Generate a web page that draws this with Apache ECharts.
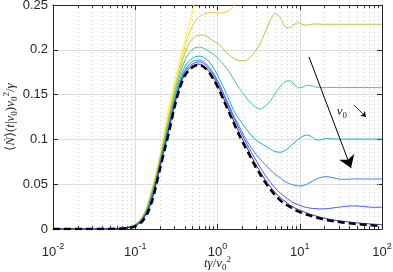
<!DOCTYPE html>
<html><head><meta charset="utf-8">
<script src="https://cdn.jsdelivr.net/npm/echarts@6/dist/echarts.min.js"></script>
<style>html,body{margin:0;padding:0;background:#fff}#c{width:393px;height:272px}</style>
</head><body><div id="c"></div>
<script>
// time grid t*gamma/v0^2
const T = [0.01, 0.03, 0.06, 0.08, 0.1, 0.12, 0.14, 0.16, 0.18, 0.2,
  0.23, 0.26, 0.3, 0.35, 0.4, 0.46, 0.53, 0.6, 0.7, 0.8,
  0.92, 1.05, 1.2, 1.4, 1.6, 1.85, 2.1, 2.4, 2.8, 3.3,
  3.8, 4.4, 5, 5.8, 6.6, 7.5, 8.5, 9.7, 11, 12.5,
  14.2, 16.2, 18.5, 21, 24, 28, 33, 40, 47, 56,
  68, 82, 100];

const yellowV = [0, 0, 0.0004, 0.002, 0.0055, 0.013, 0.027, 0.046, 0.064, 0.084,
  0.114, 0.139, 0.164, 0.19, 0.21, 0.232, 0.254, 0.272, 0.29];
const orangeV = [0, 0, 0.0004, 0.0018, 0.0052, 0.0125, 0.025, 0.044, 0.061, 0.080,
  0.107, 0.131, 0.157, 0.183, 0.203, 0.220, 0.231, 0.237, 0.240, 0.2415,
  0.2415, 0.241, 0.2415, 0.244, 0.250, 0.259, 0.270, 0.282];
const yellowGreenV = [0, 0, 0.0003, 0.0017, 0.0049, 0.012, 0.024, 0.042, 0.059, 0.078,
  0.104, 0.127, 0.153, 0.177, 0.196, 0.208, 0.2145, 0.2165, 0.216, 0.213,
  0.209, 0.206, 0.200, 0.194, 0.190, 0.188, 0.1878, 0.190, 0.197, 0.207,
  0.220, 0.233, 0.2405, 0.236, 0.226, 0.2245, 0.228, 0.2303, 0.228, 0.2277,
  0.2288, 0.2287, 0.2285, 0.2285, 0.2285, 0.2285, 0.2285, 0.2285, 0.2285, 0.2285,
  0.2285, 0.2285, 0.2285];
const tealV = [0, 0, 0.0003, 0.0016, 0.0046, 0.0115, 0.023, 0.040, 0.057, 0.076,
  0.101, 0.123, 0.149, 0.172, 0.188, 0.197, 0.202, 0.203, 0.201, 0.198,
  0.194, 0.189, 0.183, 0.175, 0.166, 0.157, 0.150, 0.143, 0.137, 0.134,
  0.137, 0.143, 0.151, 0.159, 0.1645, 0.1655, 0.162, 0.1575, 0.1585, 0.1605,
  0.1595, 0.1582, 0.158, 0.158, 0.158, 0.158, 0.158, 0.158, 0.158, 0.158,
  0.158, 0.158, 0.158];
const cyanV = [0, 0, 0.0003, 0.0015, 0.0043, 0.011, 0.022, 0.039, 0.056, 0.074,
  0.098, 0.120, 0.145, 0.167, 0.181, 0.188, 0.192, 0.193, 0.191, 0.186,
  0.178, 0.168, 0.157, 0.143, 0.131, 0.122, 0.115, 0.108, 0.101, 0.096,
  0.093, 0.089, 0.0865, 0.0857, 0.0875, 0.0915, 0.096, 0.1005, 0.1038, 0.1048,
  0.1025, 0.0993, 0.0998, 0.1012, 0.1008, 0.1003, 0.1004, 0.1004, 0.1004, 0.1004,
  0.1004, 0.1004, 0.1004];
const lightBlueV = [0, 0, 0.0003, 0.0014, 0.004, 0.0103, 0.021, 0.037, 0.054, 0.072,
  0.096, 0.117, 0.142, 0.164, 0.177, 0.1845, 0.188, 0.1885, 0.186, 0.180,
  0.172, 0.162, 0.150, 0.137, 0.125, 0.114, 0.104, 0.095, 0.086, 0.078,
  0.072, 0.066, 0.061, 0.057, 0.053, 0.0505, 0.049, 0.048, 0.0485, 0.0505,
  0.0535, 0.0562, 0.0578, 0.0584, 0.0578, 0.0563, 0.0555, 0.0556, 0.0559, 0.0559,
  0.0558, 0.0558, 0.0558];
const blueV = [0, 0, 0.0002, 0.0013, 0.0038, 0.0098, 0.020, 0.035, 0.053, 0.071,
  0.094, 0.115, 0.140, 0.162, 0.175, 0.182, 0.1855, 0.1865, 0.184, 0.178,
  0.170, 0.160, 0.149, 0.135, 0.123, 0.111, 0.101, 0.091, 0.080, 0.069,
  0.060, 0.052, 0.046, 0.040, 0.036, 0.032, 0.029, 0.027, 0.025, 0.0238,
  0.0230, 0.0226, 0.0224, 0.0226, 0.0232, 0.0240, 0.0249, 0.0256, 0.0258, 0.0253,
  0.0246, 0.0242, 0.0243];
const purpleV = [0, 0, 0.0002, 0.0012, 0.0035, 0.009, 0.019, 0.033, 0.051, 0.069,
  0.092, 0.113, 0.138, 0.160, 0.173, 0.180, 0.1835, 0.184, 0.181, 0.175,
  0.167, 0.157, 0.145, 0.131, 0.119, 0.107, 0.097, 0.087, 0.075, 0.064,
  0.055, 0.047, 0.041, 0.035, 0.031, 0.027, 0.024, 0.0215, 0.0195, 0.0175,
  0.0158, 0.0142, 0.0128, 0.0116, 0.0106, 0.0096, 0.0087, 0.0078, 0.0071, 0.0064,
  0.0058, 0.0053, 0.0049];
const dashedV = [0, 0, 0.0002, 0.001, 0.003, 0.008, 0.017, 0.031, 0.049, 0.067,
  0.090, 0.110, 0.136, 0.158, 0.171, 0.178, 0.182, 0.183, 0.180, 0.174,
  0.165, 0.155, 0.143, 0.129, 0.117, 0.104, 0.094, 0.084, 0.072, 0.061,
  0.052, 0.044, 0.038, 0.032, 0.028, 0.025, 0.022, 0.0195, 0.0175, 0.0157,
  0.0141, 0.0126, 0.0113, 0.0102, 0.0092, 0.0082, 0.0073, 0.0064, 0.0057, 0.005,
  0.0044, 0.0039, 0.0034];

const yTicks = [0, 0.05, 0.1, 0.15, 0.2, 0.25];
const xDecades = [0.01, 0.1, 1, 10, 100];

// annotation (data coordinates)
const bigArrow = [[12.96, 0.192], [42, 0.068]];
const smallArrow = [[45.7, 0.1384], [63.9, 0.125]];
const v0Label = [32.6, 0.1306];

const curves = [
  {v: yellowV, c: '#f9fb15'},
  {v: orangeV, c: '#fec338'},
  {v: yellowGreenV, c: '#abc739'},
  {v: tealV, c: '#37c897'},
  {v: cyanV, c: '#12b1d6'},
  {v: lightBlueV, c: '#2e87f7'},
  {v: blueV, c: '#4852f4'},
  {v: purpleV, c: '#3e26a8'}
];

const minorX = [];
xDecades.slice(0, 4).forEach(d => { for (let k = 2; k <= 9; k++) minorX.push(+(d * k).toPrecision(3)); });

const axisColor = '#262626';
const tickFont = 'Liberation Sans';
const mathFont = 'Liberation Serif';
const mathRich = {
  n: {fontFamily: mathFont, fontSize: 13, color: axisColor, lineHeight: 17},
  i: {fontFamily: mathFont, fontStyle: 'italic', fontSize: 13, color: axisColor, lineHeight: 17},
  sub: {fontFamily: mathFont, fontSize: 9, color: axisColor, verticalAlign: 'bottom', lineHeight: 11},
  sup: {fontFamily: mathFont, fontSize: 9, color: axisColor, verticalAlign: 'top', lineHeight: 11}
};

const series = curves.map(cv => ({
  type: 'line', xAxisIndex: 0, yAxisIndex: 0,
  data: cv.v.map((v, i) => [T[i], v]),
  showSymbol: false, symbol: 'none', smooth: 0.3, z: 3,
  lineStyle: {color: cv.c, width: 1}, silent: true
}));
series.push({
  type: 'line', data: dashedV.map((v, i) => [T[i], v]), showSymbol: false, symbol: 'none',
  smooth: 0.3, z: 4, silent: true,
  lineStyle: {color: '#000', width: 2.5, type: [7, 4]}
});
// minor grid & minor ticks
series.push({
  type: 'line', data: [], silent: true, z: 1,
  markLine: {
    silent: true, animation: false, symbol: ['none', 'none'], z: 1,
    label: {show: false},
    lineStyle: {color: '#cfcfcf', width: 1, type: [1, 3]},
    data: minorX.map(x => ({xAxis: x}))
  }
});
series.push({
  type: 'line', data: [], silent: true, z: 6,
  markLine: {
    silent: true, animation: false, symbol: ['none', 'none'], z: 6,
    label: {show: false},
    lineStyle: {color: axisColor, width: 1, type: 'solid'},
    data: minorX.map(x => [{coord: [x, 0]}, {coord: [x, 0.0032]}])
      .concat(minorX.map(x => [{coord: [x, 0.25]}, {coord: [x, 0.2468]}]))
  }
});
// arrows
series.push({
  type: 'line', data: [], silent: true, z: 8,
  markLine: {
    silent: true, animation: false, symbol: ['none', 'arrow'], symbolSize: 12, z: 8,
    label: {show: false},
    lineStyle: {color: '#000', width: 1, type: 'solid'},
    data: [[{coord: bigArrow[0]}, {coord: bigArrow[1]}]]
  }
});
series.push({
  type: 'line', data: [], silent: true, z: 8,
  markLine: {
    silent: true, animation: false, symbol: ['none', 'arrow'], symbolSize: 5, z: 8,
    label: {show: false},
    lineStyle: {color: '#000', width: 0.8, type: 'solid'},
    data: [[{coord: smallArrow[0]}, {coord: smallArrow[1]}]]
  },
  markPoint: {
    silent: true, animation: false, symbol: 'circle', symbolSize: 0,
    label: {show: true, position: 'inside', formatter: '{i|v}{sub|0}', rich: mathRich},
    data: [{coord: v0Label}]
  }
});

const chart = echarts.init(document.getElementById('c'), null, {renderer: 'canvas'});
chart.setOption({
  animation: false,
  backgroundColor: '#fff',
  grid: {left: 53, right: 11, top: 5, bottom: 43, containLabel: false, outerBoundsMode: 'none'},
  xAxis: [{
    type: 'log', logBase: 10, min: 0.01, max: 100, position: 'bottom',
    axisLine: {show: true, onZero: false, lineStyle: {color: axisColor, width: 1}},
    axisTick: {show: true, inside: true, length: 5, lineStyle: {color: axisColor}},
    axisLabel: {
      margin: 16,
      formatter: v => '{b|10}{s|' + Math.round(Math.log10(v)) + '}',
      rich: {
        b: {fontFamily: tickFont, fontSize: 13, color: axisColor, lineHeight: 15},
        s: {fontFamily: tickFont, fontSize: 9, color: axisColor, lineHeight: 9, padding: [0, 0, 12, 0]}
      }
    },
    splitLine: {show: true, lineStyle: {color: '#dedede', width: 1}},
    name: '{i|t}{i|γ}{n|/}{i|v}{sub|0}{sup|2}',
    nameLocation: 'middle', nameGap: 26, nameMoveOverlap: false,
    nameTextStyle: {rich: mathRich}
  }, {
    type: 'log', logBase: 10, min: 0.01, max: 100, position: 'top',
    axisLine: {show: true, onZero: false, lineStyle: {color: axisColor, width: 1}},
    axisTick: {show: true, inside: true, length: 5, lineStyle: {color: axisColor}},
    axisLabel: {show: false}, splitLine: {show: false}
  }],
  yAxis: [{
    type: 'value', min: yTicks[0], max: yTicks[yTicks.length - 1], interval: 0.05, position: 'left',
    axisLine: {show: true, onZero: false, lineStyle: {color: axisColor, width: 1}},
    axisTick: {show: true, inside: true, length: 5, lineStyle: {color: axisColor}},
    axisLabel: {margin: 5, fontFamily: tickFont, fontSize: 13, color: axisColor},
    splitLine: {show: true, lineStyle: {color: '#dedede', width: 1}},
    name: '{n|⟨}{i|Ṅ}{n|⟩(}{i|t}{n||}{i|v}{sub|0}{n|)}{i|v}{sub|0}{sup|2}{n|/}{i|γ}',
    nameLocation: 'middle', nameGap: 34, nameRotate: 90, nameMoveOverlap: false,
    nameTextStyle: {rich: mathRich}
  }, {
    type: 'value', min: yTicks[0], max: yTicks[yTicks.length - 1], interval: 0.05, position: 'right',
    axisLine: {show: true, onZero: false, lineStyle: {color: axisColor, width: 1}},
    axisTick: {show: true, inside: true, length: 5, lineStyle: {color: axisColor}},
    axisLabel: {show: false}, splitLine: {show: false}
  }],
  series: series
});
</script></body></html>
